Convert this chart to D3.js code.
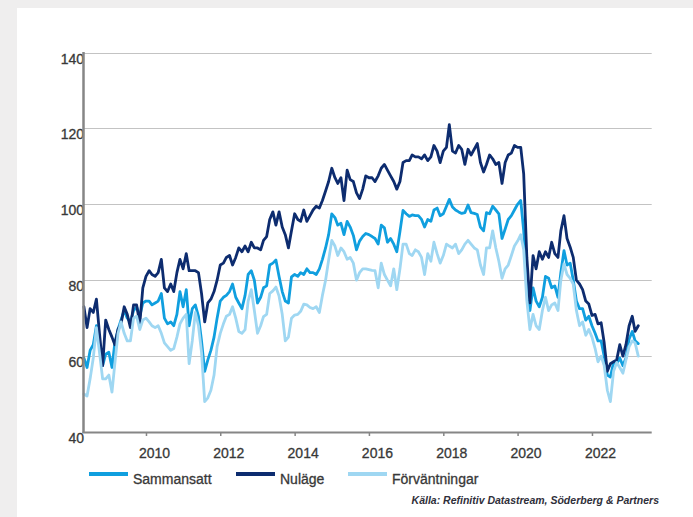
<!DOCTYPE html>
<html><head><meta charset="utf-8">
<script src="https://cdn.jsdelivr.net/npm/d3@7"></script>
<style>html,body{margin:0;padding:0;background:#efeeee;} svg{display:block;font-family:"Liberation Sans",Arial,sans-serif;}</style>
</head><body><svg id="c" width="693" height="517"></svg>
<script>
const startMonth = "2008-05";
const sammansatt = [
59.5,57,61.5,63,68,63,57.5,60.5,61,57,
63.5,67,69.5,72,70,69,72,73,70.5,74,
74.5,74.5,73.5,74,74.5,76.5,70,68.5,69,68,
71,77,73,77.5,68,72.5,73.5,70.5,64,56,
59,61.5,65,70,74.5,75.5,76,77,79,75.5,
74,72.5,76,81.5,82.5,80,74,75.5,78,78.5,
84,84.5,85.3,81,77,74.5,74,80.9,81.5,81,
82,81.5,83,82,82,81.5,83,85.5,88.5,92,
97.5,96.5,94.5,95,92,95.5,94,91.8,88,90.3,
91.5,92.3,92,91.5,91,89.5,94.5,93.8,90,91,
89.5,87.5,92.8,98.4,97.5,96.8,97.2,97,97,96,
94,96,95.5,98.5,99,97,97.5,99.5,101.3,99.3,
98.5,98,97.6,97.8,99.8,97.8,97.6,97.3,94,93,
97.8,97.5,99.5,98.5,97.5,91,93.5,96,97,98.5,
100,101,93,80,72,78,74.5,73,75.5,81,
80.5,78,78.5,75.5,82,87.8,84,84.5,80,74.5,
72.5,72.5,69.5,70.5,68,66,64,64,60,55,
54.5,58.3,58,59.5,57.5,59.5,64.5,66.5,64,63.3];
const nulage = [
73,67.5,72.5,71.5,75,66,57.5,69.5,67,65,
63,67,68.5,73,71,67.5,73.5,73.5,68.5,78,
81,82.5,81.5,81,82,85.5,78,77,79,77,
82,85.5,83,87,82.5,82.5,82.5,82,76.5,69,
74,75,77,80,84,84.5,86,86.5,84,86,
88.5,87.5,89,87.5,90,88.5,88.5,88,90.5,91.5,
96,98,94.5,98,94,92,88.5,93,97.5,96,
95.5,98.5,95.5,97,98.5,99.5,99,101,103.5,106,
109.5,107,105.5,107,101,109,106.5,106,103,101.5,
104,107.5,107,107,106,107.5,109.5,110.5,109,107.5,
106,104,106,111,111.5,111.5,113,112.5,112.5,112,
113,111.5,112.5,115.5,114,111,114,115,121,114,
113.5,115.5,114.5,110.5,114.5,113,114.5,116,111,108.5,
110.5,113,112,110.5,111,105.5,111,113,113.5,115.5,
115,115,108,86,74,86.5,83,87.5,85.5,87.5,
86,90,87,86,93,97,91,88.7,86,80,
79,77.5,74.5,73.7,70.7,71,68.5,68.8,63.5,56,
58,58.5,59,63,60,63,68,70.5,66.5,68];
const forvantningar = [
50,49.5,54,59.5,67.5,61,54,54,55,50.5,
58,66,69,66,64,64,70,70.5,67,69.5,
70,69,68,67.5,68,66,63.5,62.5,61.5,62,
65,68.5,70,71,58,64,71.5,68,61,48,
49,51,55,62.5,66,68.5,70.5,71,73,70,
66.5,66,67,74.5,77.5,72,66,68,70.4,71,
76.5,77.2,78.2,75.8,71,64,65,70,70.8,71,
71.8,73.7,73.5,72.8,72.5,73,71.5,76,80,85.3,
90.5,89,86.5,88.5,87.5,85.5,86,84.5,80,82,
83,83,82.8,82.6,82.5,78,84.5,81.5,80,78.5,
83,77.5,83,89.5,89.5,87,86.5,88,87.5,86,
81.5,87,85,90,87,84.5,86.5,89.5,89,88.5,
89.5,87,88,89.5,90.5,89.5,88.5,88,84,81.5,
88.5,88.5,93,88.5,85,80.5,83,84,86.5,89,
90.3,92,88,74.6,67,71,68,67,72,75.5,
72,73.5,74,72,80,84.3,81.5,80.5,79,72,
68,69,65.5,67,65,62,58.5,60,57.5,51,
48,56,58.3,57,55.5,59,62.5,64,63.5,60];
const yTicks = [40,60,80,100,120,140];
const xTickYears = ["2010","2012","2014","2016","2018","2020","2022"];
const seriesNames = ["Sammansatt","Nuläge","Förväntningar"];
const seriesColors = ["#109fdf","#0d2c6f","#9fd7f2"];
const sourceText = "Källa: Refinitiv Datastream, Söderberg & Partners";

const svg = d3.select("#c");
svg.append("rect").attr("width",693).attr("height",517).attr("fill","#efeeee");
svg.append("rect").attr("x",17).attr("y",8).attr("width",676).attr("height",509).attr("fill","#ffffff");

const t0 = d3.timeParse("%Y-%m")(startMonth);
const dates = sammansatt.map((_, i) => d3.timeMonth.offset(t0, i));
const x = d3.scaleTime().domain([new Date(2008,3,27), new Date(2023,7,11)]).range([83.5, 651.7]);
const y = d3.scaleLinear().domain([40,140]).range([432,52.5]);

// gridlines
svg.append("g").selectAll("line").data(yTicks.filter(v => v > 40)).join("line")
  .attr("x1", 83.5).attr("x2", 651.7)
  .attr("y1", d => Math.round(y(d)) + 0.5).attr("y2", d => Math.round(y(d)) + 0.5)
  .attr("stroke", "#c3c3c3").attr("stroke-width", 1.2);

// series
const allSeries = [sammansatt, nulage, forvantningar];
const line = d3.line().x((d, i) => x(dates[i])).y(d => y(d)).curve(d3.curveLinear);
allSeries.forEach((s, k) => {
  svg.append("path").datum(s).attr("d", line)
    .attr("fill", "none").attr("stroke", seriesColors[k])
    .attr("stroke-width", 2.8).attr("stroke-linejoin", "round").attr("stroke-linecap", "round");
});

const labelStyle = sel => sel.attr("font-size", 14).attr("fill", "#383838")
  .attr("stroke", "#383838").attr("stroke-width", 0.3)
  .attr("font-family", "Liberation Sans, Arial, sans-serif");

// y axis
const yAxis = svg.append("g").attr("transform", "translate(84,0)")
  .call(d3.axisLeft(y).tickValues(yTicks).tickSize(0).tickPadding(0));
yAxis.select(".domain").remove();
yAxis.selectAll("text").attr("x", 0).attr("dy", null).attr("y", 10.5).call(labelStyle);

// x axis
const xAxis = svg.append("g").attr("transform", "translate(0,432)")
  .call(d3.axisBottom(x).tickValues(xTickYears.map(s => new Date(+s, 0, 1)))
    .tickFormat((d, i) => xTickYears[i]).tickSize(4).tickSizeOuter(0));
xAxis.select(".domain").remove();
xAxis.selectAll(".tick line").attr("stroke", "#868686").attr("stroke-width", 1.5);
xAxis.selectAll("text").attr("dy", null).attr("y", 26).attr("dx", 8).call(labelStyle);

// axis lines
svg.append("line").attr("x1", 83.5).attr("x2", 83.5).attr("y1", 52).attr("y2", 433)
  .attr("stroke", "#868686").attr("stroke-width", 2.5);
svg.append("line").attr("x1", 82.5).attr("x2", 651.7).attr("y1", 432.5).attr("y2", 432.5)
  .attr("stroke", "#868686").attr("stroke-width", 2);

// legend
const legendX = [89, 236, 348];
const leg = svg.append("g");
seriesNames.forEach((n, k) => {
  leg.append("line").attr("x1", legendX[k]).attr("x2", legendX[k] + 39)
    .attr("y1", 474).attr("y2", 474).attr("stroke", seriesColors[k]).attr("stroke-width", 4);
  leg.append("text").attr("x", legendX[k] + 44).attr("y", 484).text(n).call(labelStyle);
});

// source
svg.append("text").attr("x", 659).attr("y", 504).attr("text-anchor", "end")
  .attr("font-size", 10.5).attr("font-style", "italic").attr("font-weight", "bold")
  .attr("fill", "#2f2f3a")
  .text(sourceText);
</script></body></html>
